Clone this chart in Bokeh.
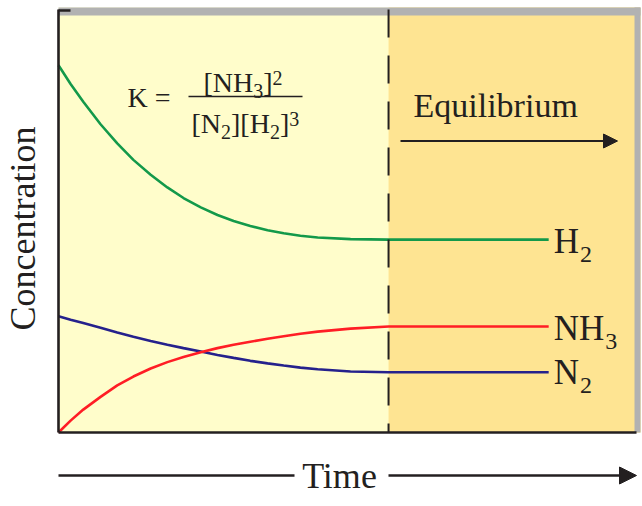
import math
from bokeh.plotting import figure
from bokeh.models import Range1d, Arrow, NormalHead
from bokeh.core.properties import value
from bokeh.embed import file_html
from bokeh.resources import INLINE

# ---------------- data ----------------
time = [0.0, 0.21, 0.43, 0.73, 1.02, 1.30, 1.60, 1.89, 2.17, 2.47,
        2.76, 3.04, 3.33, 3.63, 3.91, 4.20, 4.50, 5.07, 5.73, 8.51]
h2 = [86.6, 82.2, 78.0, 72.7, 68.2, 64.3, 60.8, 57.8, 55.3, 53.1,
      51.3, 49.9, 48.7, 47.7, 47.0, 46.4, 46.0, 45.6, 45.5, 45.5]
nh3 = [0.0, 2.8, 5.4, 8.4, 11.1, 13.2, 15.1, 16.6, 17.8, 18.9,
       19.9, 20.7, 21.4, 22.1, 22.7, 23.3, 23.8, 24.5, 25.0, 25.0]
n2 = [27.4, 26.6, 25.8, 24.7, 23.6, 22.6, 21.6, 20.7, 19.9, 19.1,
      18.3, 17.6, 16.9, 16.3, 15.8, 15.3, 14.9, 14.4, 14.2, 14.2]
species = ["H", "NH", "N"]
subscripts = ["2", "3", "2"]
t_equilibrium = 5.73
c_top = 100.0

# ---------------- layout (page pixels) ----------------
W, H = 642, 506
BOX_L, BOX_B = 58, 432
PX_T, PX_C = 57.6, 4.24
BL = 0.34  # baseline correction (fraction of font size)


def X(px):
    return (px - BOX_L) / PX_T


def Y(py):
    return (BOX_B - py) / PX_C


t_box_end = X(640)

LIGHT = "#FFFDCB"
DARK = "#FEE492"
GRAY = "#B2B2B2"
INK = "#231F20"
GREEN = "#13994A"
RED = "#FF1D25"
BLUE = "#25218C"
FONT = value("Liberation Serif")

ADV = {"H": 0.722, "N": 0.722, "K": 0.722, "[": 0.333, "]": 0.333,
       "=": 0.564, " ": 0.25}


def adv(s, size):
    return sum(ADV.get(ch, 0.5) for ch in s) * size


p = figure(width=W, height=H,
           x_range=Range1d(X(0), X(W)),
           y_range=Range1d(Y(H), Y(0)),
           x_axis_type=None, y_axis_type=None,
           toolbar_location=None, output_backend="svg", min_border=0)
p.outline_line_color = None
p.background_fill_color = "white"
p.border_fill_color = "white"

# background regions
p.quad(left=[0], right=[t_box_end], bottom=[0], top=[Y(7)],
       fill_color=LIGHT, line_color=None)
p.quad(left=[t_equilibrium], right=[t_box_end], bottom=[0], top=[Y(7)],
       fill_color=DARK, line_color=None)
# gray frame edges (top and right)
p.quad(left=[0], right=[t_box_end], bottom=[Y(15)], top=[Y(7)],
       fill_color=GRAY, line_color=None)
p.quad(left=[X(634)], right=[t_box_end], bottom=[0], top=[Y(7)],
       fill_color=GRAY, line_color=None)

# curves
p.line(time, h2, line_color=GREEN, line_width=2.6)
p.line(time, n2, line_color=BLUE, line_width=2.6)
p.line(time, nh3, line_color=RED, line_width=2.6)

# equilibrium dashed line
p.segment(x0=[t_equilibrium], y0=[Y(9)], x1=[t_equilibrium], y1=[0],
          line_color=INK, line_width=2, line_dash="28 18")

# black left and bottom edges
p.segment(x0=[0, 0], y0=[Y(9), 0], x1=[0, X(636)], y1=[0, 0],
          line_color=INK, line_width=2.6)
p.segment(x0=[0], y0=[Y(10)], x1=[X(70)], y1=[Y(10)],
          line_color=INK, line_width=2.4)


def txt(x, y, s, size, align="left", xo=0.0, yo=0.0, angle=0.0):
    if angle:
        xo = xo - BL * size
    else:
        yo = yo - BL * size
    p.text(x=x, y=y, text=[s], text_font=FONT, text_font_size=f"{size}px",
           text_color=INK, text_align=align, text_baseline="alphabetic",
           x_offset=xo, y_offset=yo, angle=angle)


# series labels with subscripts
MAIN, SUB = 35, 24
for name, sub, series, dy in zip(species, subscripts, [h2, nh3, n2], [14, 14, 12]):
    txt([time[-1]], [series[-1]], name, MAIN, xo=5, yo=dy)
    txt([time[-1]], [series[-1]], sub, SUB, xo=5 + adv(name, MAIN) + 1, yo=dy + 9)

# equilibrium constant expression
F, FS = 28, 20


def runs(x_px, base_px, items):
    cx = x_px
    for s, size, shift in items:
        txt([X(cx)], [Y(base_px + shift)], s, size)
        cx += adv(s, size)


runs(127, 107, [("K =", F, 0)])
runs(203, 92, [("[NH", F, 0), ("3", FS, 5), ("]", F, 0), ("2", FS, -8)])
runs(191, 133, [("[N", F, 0), ("2", FS, 5), ("][H", F, 0), ("2", FS, 5),
                ("]", F, 0), ("3", FS, -8)])
p.segment(x0=[X(188)], y0=[Y(96)], x1=[X(302)], y1=[Y(96)],
          line_color=INK, line_width=1.5)

# "Equilibrium" with arrow
txt([X(413)], [Y(117)], "Equilibrium", 34)
p.add_layout(Arrow(end=NormalHead(size=14, fill_color=INK, line_color=INK),
                   x_start=X(400), y_start=Y(140.5), x_end=X(617), y_end=Y(140.5),
                   line_color=INK, line_width=2))

# axis titles
txt([X(35)], [Y(228)], "Concentration", 36, align="center", angle=math.pi / 2)
txt([X(339)], [Y(488)], "Time", 36, align="center")
p.segment(x0=[X(58)], y0=[Y(475)], x1=[X(294)], y1=[Y(475)],
          line_color=INK, line_width=2.5)
p.add_layout(Arrow(end=NormalHead(size=17, fill_color=INK, line_color=INK),
                   x_start=X(388), y_start=Y(475), x_end=X(636), y_end=Y(475),
                   line_color=INK, line_width=2.5))

open("out.html", "w").write(file_html(p, INLINE))
